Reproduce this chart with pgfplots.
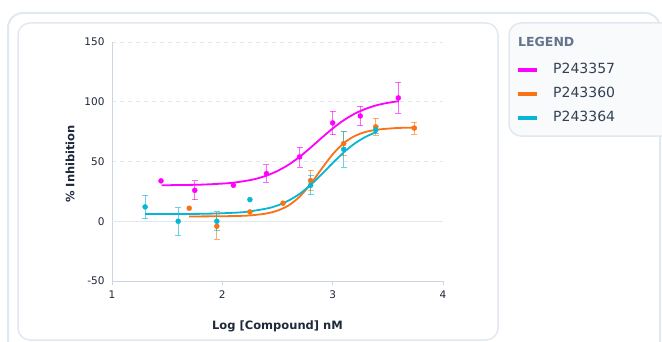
\documentclass[border=0pt]{standalone}
\usepackage{pgfplots}
\pgfplotsset{compat=1.18}
\usepackage{fontspec}
\setmainfont{DejaVu Sans}
\definecolor{mag}{HTML}{FF00FF}
\definecolor{org}{HTML}{F97316}
\definecolor{cyn}{HTML}{06B6D4}
\definecolor{framec}{HTML}{E2E8F0}
\definecolor{axisc}{HTML}{CBD5E1}
\definecolor{tickc}{HTML}{1E293B}
\definecolor{legt}{HTML}{64748B}
\definecolor{legbg}{HTML}{F8FAFC}
\definecolor{labc}{HTML}{334155}
\begin{document}
\begin{tikzpicture}[x=1pt,y=1pt]
\useasboundingbox (0,0) rectangle (662,341);
\begin{scope}
\clip (0,0) rectangle (662,341);
\draw[framec, line width=2pt, rounded corners=15pt] (8,328) rectangle (660,-40);
\draw[framec, line width=1.5pt, fill=white, rounded corners=12pt] (18,318) rectangle (498,1);
\draw[framec, line width=1.5pt, fill=legbg, rounded corners=12pt] (509,318) rectangle (690,205);
\end{scope}
\node[anchor=west, inner sep=0pt, font=\bfseries\fontsize{12.5}{14}\selectfont, text=legt] at (518,299) {LEGEND};
\begin{axis}[
  at={(112pt,60pt)}, anchor=south west, scale only axis,
  width=331pt, height=239pt,
  xmin=1, xmax=4, ymin=-50, ymax=150,
  axis lines*=left,
  axis line style={axisc, line width=0.8pt},
  xtick={1,2,3,4}, ytick={-50,0,50,100,150},
  tick align=outside, major tick length=4pt,
  xtick style={axisc, line width=0.8pt},
  ytick style={draw=none},
  ymajorgrids,
  grid style={framec, dash pattern=on 4pt off 4pt, line width=0.8pt},
  extra y ticks={0}, extra y tick labels={},
  extra y tick style={grid style={solid, framec, line width=1pt}},
  tick label style={font=\fontsize{10.5}{12}\selectfont, text=tickc},
  xticklabel style={yshift=-2pt},
  /pgf/number format/assume math mode=true,
  xlabel={Log [Compound] nM}, ylabel={\% Inhibition},
  label style={font=\bfseries\fontsize{11.5}{13}\selectfont, text=tickc},
  xlabel style={at={(axis description cs:0.5,-0.188)}, anchor=center},
  ylabel style={at={(axis description cs:-0.127,0.49)}, anchor=center},
  legend style={at={(axis description cs:1.2206,0.912)}, anchor=north west,
    draw=none, fill=none, inner sep=0pt, row sep=11pt,
    font=\fontsize{14}{16}\selectfont, text=labc,
    nodes={inner sep=0pt, text height=10pt, text depth=3pt},
    /tikz/every odd column/.style={column sep=14pt}},
  legend image code/.code={\draw[#1, line width=4pt] (0pt,0pt) -- (19pt,0pt);},
  legend cell align=left,
]
% ---- P243357 ----
\addplot[mag, line width=1.8pt, smooth] coordinates {
(1.45,30.1) (1.6,30.3) (1.8,30.6) (2.0,31.5) (2.1,32.3) (2.2,33.6) (2.3,35.4)
(2.4,38.2) (2.5,42.1) (2.6,47.3) (2.7,53.9) (2.8,61.6) (2.9,69.8) (3.0,77.6)
(3.1,84.5) (3.2,90.0) (3.3,94.1) (3.4,97.1) (3.5,99.1) (3.6,100.5)};
\addlegendentry{P243357}
% ---- P243360 ----
\addplot[org, line width=1.8pt, smooth] coordinates {
(1.7,4.0) (2.0,4.2) (2.2,4.6) (2.3,5.3) (2.4,6.5) (2.5,8.9) (2.6,13.2)
(2.7,20.5) (2.8,31.1) (2.9,43.9) (3.0,56.0) (3.1,65.4) (3.2,71.3) (3.3,74.8)
(3.4,76.6) (3.5,77.5) (3.6,78.1) (3.75,78.4)};
\addlegendentry{P243360}
% ---- P243364 ----
\addplot[cyn, line width=1.8pt, smooth] coordinates {
(1.3,6.0) (1.6,6.1) (1.8,6.2) (2.0,6.7) (2.2,7.7) (2.4,10.6) (2.5,13.2)
(2.6,17.3) (2.7,22.9) (2.8,30.4) (2.9,39.3) (3.0,48.7) (3.1,57.6) (3.2,65.1)
(3.3,70.7) (3.4,74.8)};
\addlegendentry{P243364}
% ---- points ----
\addplot[forget plot, only marks, mark=*, mark size=2.5pt, mag,
  error bars/.cd, y dir=both, y explicit,
  error bar style={mag, opacity=0.6, line width=0.8pt},
  error mark options={rotate=90, mark size=3pt, mag, opacity=0.6, line width=0.8pt}]
  table[x=x, y=y, y error=e] {
x y e
1.75 25.9 8
2.4 39.9 7.3
2.7 53.8 8.4
3.0 82.3 10
3.25 88.1 8
3.595 103.2 13
};
\addplot[forget plot, only marks, mark=*, mark size=2.5pt, mag] table[x=x, y=y] {
x y
1.444 33.8
2.1 30.1
};
\addplot[forget plot, only marks, mark=*, mark size=2.5pt, org,
  error bars/.cd, y dir=both, y explicit,
  error bar style={org, opacity=0.6, line width=0.8pt},
  error mark options={rotate=90, mark size=3pt, org, opacity=0.6, line width=0.8pt}]
  table[x=x, y=y, y error=e] {
x y e
1.95 -4.2 11
2.8 34 8.5
3.1 65 10
3.39 79 7
3.74 78 5
};
\addplot[forget plot, only marks, mark=*, mark size=2.5pt, org] table[x=x, y=y] {
x y
1.7 10.9
2.25 7.8
2.55 15.1
};
\addplot[forget plot, only marks, mark=*, mark size=2.5pt, cyn,
  error bars/.cd, y dir=both, y explicit,
  error bar style={cyn, opacity=0.6, line width=0.8pt},
  error mark options={rotate=90, mark size=3pt, cyn, opacity=0.6, line width=0.8pt}]
  table[x=x, y=y, y error=e] {
x y e
1.3 12 10
1.6 0 11.5
1.95 0 8
2.8 30.1 8
3.1 60.2 15
3.39 76.5 3
};
\addplot[forget plot, only marks, mark=*, mark size=2.5pt, cyn] table[x=x, y=y] {
x y
2.25 18.1
};
\end{axis}
\end{tikzpicture}
\end{document}
